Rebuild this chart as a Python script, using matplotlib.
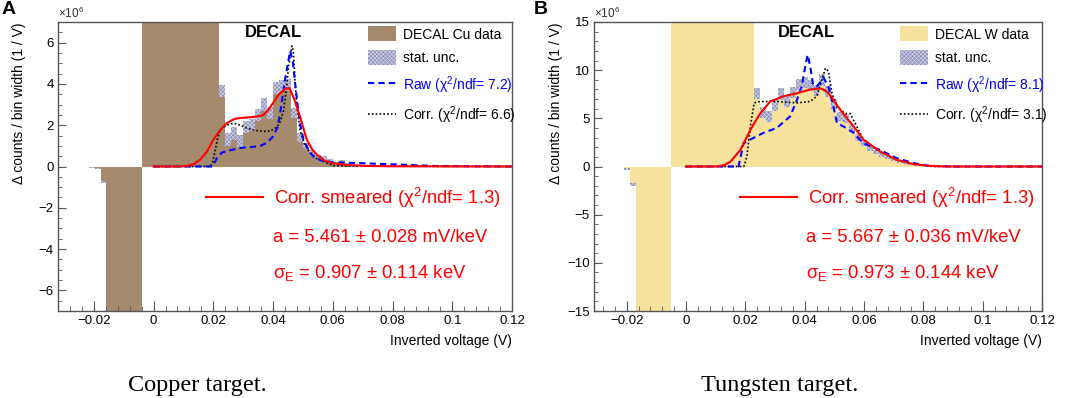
import numpy as np
import matplotlib
matplotlib.use("Agg")
import matplotlib.pyplot as plt
from matplotlib.patches import Patch
from matplotlib.lines import Line2D
from matplotlib.ticker import MultipleLocator, FixedLocator, FixedFormatter

plt.rcParams['font.family'] = ['Liberation Sans', 'DejaVu Sans']
plt.rcParams['mathtext.fontset'] = 'custom'
plt.rcParams['mathtext.rm'] = 'Liberation Sans'
plt.rcParams['mathtext.it'] = 'Liberation Sans:italic'
plt.rcParams['hatch.linewidth'] = 0.5

# ---------------- data: copper (A) ----------------
cu_edges = [-0.0215, -0.0195, -0.0177, -0.0159, -0.0039, 0.022,
            0.024, 0.026, 0.028, 0.030, 0.032, 0.034, 0.036, 0.038, 0.040,
            0.042, 0.044, 0.046, 0.048, 0.050, 0.052, 0.054, 0.056, 0.058,
            0.060, 0.062, 0.064, 0.066, 0.068]
cu_vals = [-0.03, -0.1, -0.75, -9.0, 9.0,
           3.65, 1.3, 1.6, 1.25, 1.9, 2.0, 2.5, 3.0, 2.6, 3.8,
           3.9, 3.95, 2.6, 1.4, 1.0, 0.7, 0.45, 0.4, 0.3,
           0.15, 0.25, 0.1, 0.03]
cu_errs = [0.02, 0.03, 0.05, 0.0, 0.0,
           0.3, 0.3, 0.3, 0.3, 0.3, 0.3, 0.3, 0.3, 0.3, 0.3,
           0.3, 0.3, 0.25, 0.2, 0.15, 0.12, 0.1, 0.1, 0.08,
           0.08, 0.08, 0.05, 0.03]

cu_red_x = [0.0, 0.008, 0.011, 0.0135, 0.0156, 0.018, 0.020, 0.0225, 0.0245, 0.027,
            0.029, 0.0315, 0.0335, 0.0355, 0.0368, 0.0385, 0.040, 0.042, 0.044, 0.0455,
            0.047, 0.049, 0.0513, 0.053, 0.0547, 0.057, 0.060, 0.065, 0.071, 0.08, 0.12]
cu_red_y = [0, 0, 0.02, 0.12, 0.33, 0.75, 1.3, 1.8, 2.1, 2.3,
            2.35, 2.38, 2.4, 2.45, 2.5, 2.75, 3.08, 3.5, 3.76, 3.8,
            3.3, 2.43, 1.3, 0.85, 0.57, 0.3, 0.16, 0.07, 0.03, 0.01, 0]

cu_raw_x = [0.0, 0.0195, 0.0205, 0.0215, 0.023, 0.026, 0.029, 0.033, 0.0357, 0.038,
            0.040, 0.0415, 0.0424, 0.0432, 0.044, 0.045, 0.0457, 0.0465, 0.0472, 0.048,
            0.049, 0.0502, 0.052, 0.0535, 0.056, 0.060, 0.066, 0.075, 0.085, 0.095, 0.12]
cu_raw_y = [0, 0, 0.2, 0.5, 0.68, 0.8, 0.9, 0.95, 1.0, 1.15,
            1.45, 1.9, 2.6, 3.4, 4.2, 5.0, 5.6, 5.2, 4.3, 3.24,
            2.1, 1.3, 0.75, 0.49, 0.3, 0.2, 0.18, 0.13, 0.08, 0.02, 0]

cu_corr_x = [0.0, 0.019, 0.0198, 0.0205, 0.0215, 0.0223, 0.0245, 0.0268, 0.029, 0.0313,
             0.034, 0.0368, 0.039, 0.0413, 0.0425, 0.0435, 0.0445, 0.0452, 0.0463, 0.0468,
             0.0474, 0.048, 0.049, 0.0505, 0.0524, 0.0545, 0.0569, 0.060, 0.065, 0.12]
cu_corr_y = [0, 0, 0.2, 0.7, 1.4, 1.78, 2.0, 2.1, 2.0, 1.85,
             1.75, 1.7, 1.72, 1.9, 2.2, 2.7, 3.8, 4.86, 5.84, 5.6,
             4.0, 2.9, 1.78, 1.1, 0.65, 0.4, 0.24, 0.05, 0.02, 0]

# ---------------- data: tungsten (B) ----------------
w_edges = [-0.021, -0.0187, -0.0168, -0.005, 0.023,
           0.025, 0.027, 0.029, 0.031, 0.033, 0.035, 0.037, 0.039, 0.041, 0.043,
           0.045, 0.047, 0.049, 0.051, 0.053, 0.055, 0.057, 0.059, 0.061, 0.063,
           0.065, 0.067, 0.069, 0.071, 0.073, 0.075, 0.077, 0.079, 0.081, 0.083]
w_vals = [-0.3, -1.9, -20.0, 20.0,
          7.6, 5.6, 5.2, 6.4, 7.5, 6.8, 7.7, 8.5, 8.7, 8.4,
          7.9, 9.0, 7.8, 6.5, 5.2, 5.0, 4.0, 3.0, 2.4, 1.9,
          1.5, 1.2, 0.9, 0.7, 0.5, 0.35, 0.25, 0.15, 0.1, 0.05]
w_errs = [0.1, 0.15, 0.0, 0.0,
          0.6, 0.6, 0.6, 0.6, 0.6, 0.6, 0.6, 0.6, 0.6, 0.6,
          0.6, 0.6, 0.6, 0.5, 0.5, 0.45, 0.4, 0.35, 0.3, 0.25,
          0.2, 0.2, 0.15, 0.15, 0.1, 0.1, 0.08, 0.06, 0.05, 0.04]

w_red_x = [0.0, 0.0104, 0.013, 0.015, 0.0183, 0.0217, 0.025, 0.0284, 0.0329, 0.0374,
           0.0419, 0.0452, 0.047, 0.0486, 0.052, 0.0565, 0.0598, 0.0655, 0.071, 0.0767,
           0.082, 0.088, 0.12]
w_red_y = [0, 0, 0.15, 0.5, 1.7, 3.8, 5.5, 6.75, 7.3, 7.6,
           8.0, 8.1, 7.9, 7.4, 5.9, 4.15, 2.8, 1.55, 0.7, 0.25,
           0.07, 0, 0]

w_raw_x = [0.0, 0.0177, 0.0194, 0.0217, 0.0262, 0.0306, 0.0351, 0.0374, 0.039, 0.0402,
           0.041, 0.0419, 0.0428, 0.0441, 0.0464, 0.048, 0.0497, 0.0509, 0.0531, 0.0565,
           0.0598, 0.0655, 0.071, 0.0767, 0.082, 0.09, 0.12]
w_raw_y = [0, 0, 2.4, 2.8, 3.5, 4.0, 5.2, 6.9, 8.3, 10.4,
           11.6, 10.4, 8.5, 8.3, 9.2, 8.3, 6.2, 4.5, 4.15, 3.5,
           2.4, 1.7, 0.87, 0.35, 0.07, 0, 0]

w_corr_x = [0.0, 0.0195, 0.0205, 0.0217, 0.023, 0.025, 0.0306, 0.0374, 0.0419, 0.0441,
            0.0458, 0.047, 0.048, 0.0492, 0.0509, 0.0536, 0.0553, 0.057, 0.0598, 0.0643,
            0.071, 0.0767, 0.083, 0.12]
w_corr_y = [0, 0, 1.0, 4.15, 6.6, 6.75, 6.75, 6.6, 6.75, 7.3,
            9.0, 10.2, 9.9, 7.6, 6.2, 5.5, 5.5, 4.5, 2.8, 1.7,
            0.7, 0.25, 0, 0]

xtick_vals = [-0.02, 0, 0.02, 0.04, 0.06, 0.08, 0.1, 0.12]
xtick_labels = ['\u22120.02', '0', '0.02', '0.04', '0.06', '0.08', '0.1', '0.12']

hatch_face = '#8e91ba'
hatch_edge = '#d6d7e6'
hatch_pat = 'xxxxxxxx'
frame_col = '#555555'


def draw_panel(ax, edges, vals, errs, red, raw, corr, fill_col, target, chi_raw, chi_corr,
               a_txt, s_txt, xlim, ylim, ymaj, ymin_step, ytick_labels):
    edges = np.array(edges)
    vals = np.array(vals)
    errs = np.array(errs)
    ax.stairs(vals * 1e6, edges, fill=True, color=fill_col, baseline=0, zorder=1)
    centers = 0.5 * (edges[1:] + edges[:-1])
    widths = np.diff(edges)
    m = errs > 0
    ax.bar(centers[m], 2 * errs[m] * 1e6, bottom=(vals[m] - errs[m]) * 1e6, width=widths[m],
           color=hatch_face, hatch=hatch_pat, edgecolor=hatch_edge, linewidth=0, zorder=2)

    ax.plot(np.array(corr[0]), np.array(corr[1]) * 1e6, color='black', ls=(0, (1, 1.3)), lw=1.2, zorder=3)
    ax.plot(np.array(raw[0]), np.array(raw[1]) * 1e6, color='#0000ff', ls=(0, (3, 2)), lw=1.5, zorder=4)
    ax.plot(np.array(red[0]), np.array(red[1]) * 1e6, color='#ff0000', lw=1.5, zorder=5)

    ax.set_xlim(*xlim)
    ax.set_ylim(ylim[0] * 1e6, ylim[1] * 1e6)
    ax.xaxis.set_major_locator(FixedLocator(xtick_vals))
    ax.xaxis.set_major_formatter(FixedFormatter(xtick_labels))
    ax.xaxis.set_minor_locator(MultipleLocator(0.004))
    ax.yaxis.set_major_locator(FixedLocator([v * 1e6 for v in ymaj]))
    ax.yaxis.set_major_formatter(FixedFormatter(ytick_labels))
    ax.yaxis.set_minor_locator(MultipleLocator(ymin_step * 1e6))
    ax.tick_params(which='both', direction='in', colors=frame_col, labelcolor='black',
                   labelsize=9.5, top=False, right=False)
    ax.tick_params(axis='x', which='major', length=7, pad=3)
    ax.tick_params(axis='x', which='minor', length=3.5)
    ax.tick_params(axis='y', which='major', length=6, pad=3)
    ax.tick_params(axis='y', which='minor', length=3)
    for s in ax.spines.values():
        s.set_color(frame_col)
        s.set_linewidth(1.0)

    ax.text(0.0, 1.005, r'$\times$10$^{6}$', transform=ax.transAxes, fontsize=8.5,
            ha='left', va='bottom', color='#333333')
    ax.text(-0.085, 0.72, '\u0394 counts / bin width (1 / V)', transform=ax.transAxes,
            rotation=90, ha='center', va='center', fontsize=10)
    ax.text(1.0, -0.105, 'Inverted voltage (V)', transform=ax.transAxes,
            ha='right', va='center', fontsize=10)
    ax.text(0.475, 0.965, 'DECAL', transform=ax.transAxes, ha='center', va='center',
            fontsize=12, fontweight='bold')

    handles = [Patch(facecolor=fill_col, edgecolor='none'),
               Patch(facecolor=hatch_face, hatch=hatch_pat, edgecolor=hatch_edge, linewidth=0),
               Line2D([], [], color='#0000ff', ls=(0, (3, 2)), lw=1.5),
               Line2D([], [], color='black', ls=(0, (1, 1.3)), lw=1.2)]
    labels = ['DECAL %s data' % target, 'stat. unc.',
              'Raw (\u03c7$^{2}$/ndf= %s)' % chi_raw, 'Corr. (\u03c7$^{2}$/ndf= %s)' % chi_corr]
    leg = ax.legend(handles, labels, loc='upper left', bbox_to_anchor=(0.683, 0.985),
                    frameon=False, fontsize=10, handlelength=2.0, handleheight=1.3,
                    handletextpad=0.5, labelspacing=0.62, borderpad=0, borderaxespad=0)
    leg.get_texts()[2].set_color('#0000ff')
    ax.add_artist(leg)

    leg2 = ax.legend([Line2D([], [], color='#ff0000', lw=1.5)],
                     ['Corr. smeared (\u03c7$^{2}$/ndf= 1.3)'],
                     loc='center left', bbox_to_anchor=(0.325, 0.392), frameon=False,
                     fontsize=13.3, handlelength=3.1, handletextpad=0.6, borderpad=0,
                     borderaxespad=0)
    leg2.get_texts()[0].set_color('#ff0000')
    ax.text(0.4736, 0.256, a_txt, transform=ax.transAxes, ha='left', va='center',
            fontsize=13.3, color='#ff0000')
    ax.text(0.4736, 0.13, s_txt, transform=ax.transAxes, ha='left', va='center',
            fontsize=13.3, color='#ff0000')


fig = plt.figure(figsize=(10.65, 3.98), dpi=100)
ax1 = fig.add_axes([58 / 1065, 1 - 311 / 398, 454 / 1065, 289 / 398])
ax2 = fig.add_axes([594 / 1065, 1 - 311 / 398, 448 / 1065, 289 / 398])

draw_panel(ax1, cu_edges, cu_vals, cu_errs,
           (cu_red_x, cu_red_y), (cu_raw_x, cu_raw_y), (cu_corr_x, cu_corr_y),
           '#a68a6d', 'Cu', '7.2', '6.6',
           'a = 5.461 \u00b1 0.028 mV/keV', '\u03c3$_{\\rm E}$ = 0.907 \u00b1 0.114 keV',
           (-0.032, 0.12), (-7, 7), [-6, -4, -2, 0, 2, 4, 6], 0.5,
           ['\u22126', '\u22124', '\u22122', '0', '2', '4', '6'])
draw_panel(ax2, w_edges, w_vals, w_errs,
           (w_red_x, w_red_y), (w_raw_x, w_raw_y), (w_corr_x, w_corr_y),
           '#f6e29d', 'W', '8.1', '3.1',
           'a = 5.667 \u00b1 0.036 mV/keV', '\u03c3$_{\\rm E}$ = 0.973 \u00b1 0.144 keV',
           (-0.031, 0.12), (-15, 15), [-15, -10, -5, 0, 5, 10, 15], 1.0,
           ['\u221215', '\u221210', '\u22125', '0', '5', '10', '15'])

fig.text(0.001, 0.998, 'A', ha='left', va='top', fontsize=14, fontweight='bold')
fig.text(534 / 1065, 0.998, 'B', ha='left', va='top', fontsize=14, fontweight='bold')
fig.text(197 / 1065, 1 - 385 / 398, 'Copper target.', ha='center', va='center',
         fontsize=17.5, family='Liberation Serif')
fig.text(780 / 1065, 1 - 385 / 398, 'Tungsten target.', ha='center', va='center',
         fontsize=17.5, family='Liberation Serif')

fig.savefig('out.png', dpi=100)
